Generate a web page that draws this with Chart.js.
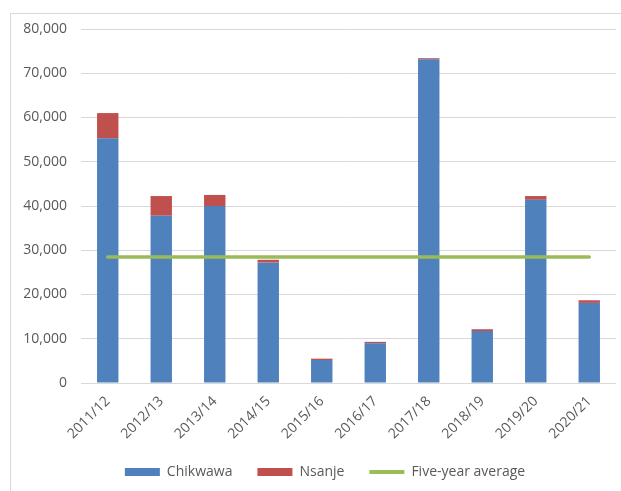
<!DOCTYPE html>
<html>
<head>
<meta charset="utf-8">
<script src="https://cdn.jsdelivr.net/npm/chart.js@4/dist/chart.umd.min.js"></script>
<style>
  html, body { margin: 0; padding: 0; background: #ffffff; }
  #wrap { position: relative; width: 621px; height: 491px; overflow: hidden; }
  #frame { position: absolute; left: 10px; top: 13px; width: 640px; height: 520px; border: 1px solid #d9d9d9; box-sizing: border-box; }
  #c { position: absolute; left: 0; top: 0; }
</style>
</head>
<body>
<div id="wrap">
  <div id="frame"></div>
  <canvas id="c" width="621" height="491"></canvas>
</div>
<script>
const categories = ["2011/12", "2012/13", "2013/14", "2014/15", "2015/16", "2016/17", "2017/18", "2018/19", "2019/20", "2020/21"];
const chikwawa = [55300, 37800, 40000, 27200, 5200, 9000, 73150, 11750, 41400, 18100];
const nsanje = [5700, 4450, 2500, 650, 300, 300, 250, 400, 850, 600];
const fiveYearAverage = [28500, 28500, 28500, 28500, 28500, 28500, 28500, 28500, 28500, 28500];
const yTicks = [0, 10000, 20000, 30000, 40000, 50000, 60000, 70000, 80000];

const FONT = "'Open Sans', sans-serif";
const TEXT = "#595959";

const shiftLegend = {
  id: 'shiftLegend',
  afterLayout(chart) {
    if (chart.legend) { chart.legend.left += 17; chart.legend.right += 17; }
  }
};

new Chart(document.getElementById('c'), {
  data: {
    labels: categories,
    datasets: [
      { type: 'bar', label: 'Chikwawa', data: chikwawa, backgroundColor: '#4F81BD', stack: 'bars', order: 2,
        categoryPercentage: 1.0, barPercentage: 0.4 },
      { type: 'bar', label: 'Nsanje', data: nsanje, backgroundColor: '#C0504D', stack: 'bars', order: 2,
        categoryPercentage: 1.0, barPercentage: 0.4 },
      { type: 'line', label: 'Five-year average', data: fiveYearAverage, borderColor: '#9BBB59', backgroundColor: '#9BBB59',
        borderWidth: 3.5, pointRadius: 0, stack: 'avg', order: 1, borderCapStyle: 'round' }
    ]
  },
  plugins: [shiftLegend],
  options: {
    responsive: false,
    animation: false,
    layout: { padding: { left: 0, right: 5, top: 29, bottom: 2 } },
    scales: {
      x: {
        stacked: true,
        grid: { display: false },
        border: { display: false },
        ticks: { color: TEXT, font: { family: FONT, size: 14 }, maxRotation: 45, minRotation: 45, padding: 2 },
        afterFit: (s) => { s.height = 57; }
      },
      y: {
        stacked: true,
        min: 0, max: 80000,
        afterBuildTicks: (s) => { s.ticks = yTicks.map(v => ({ value: v })); },
        grid: { color: '#d9d9d9', lineWidth: 1, drawTicks: false },
        border: { display: false },
        ticks: { color: TEXT, font: { family: FONT, size: 14 }, padding: 14,
          callback: (v) => v.toLocaleString('en-US') },
        afterFit: (s) => { s.width = 81; }
      }
    },
    plugins: {
      tooltip: { enabled: false },
      legend: {
        position: 'bottom',
        labels: {
          color: TEXT,
          font: { family: FONT, size: 14 },
          boxWidth: 35, boxHeight: 8, padding: 25,
          usePointStyle: true, pointStyleWidth: 35,
          sort: (a, b) => a.datasetIndex - b.datasetIndex,
          generateLabels: (chart) => {
            const items = Chart.defaults.plugins.legend.labels.generateLabels(chart);
            items.forEach(it => {
              const ds = chart.data.datasets[it.datasetIndex];
              if (ds.type === 'line') {
                it.pointStyle = 'line'; it.lineWidth = 4; it.strokeStyle = '#9BBB59'; it.fillStyle = '#9BBB59';
              } else {
                it.pointStyle = 'rect'; it.lineWidth = 0;
              }
            });
            return items;
          }
        }
      }
    }
  }
});
</script>
</body>
</html>
